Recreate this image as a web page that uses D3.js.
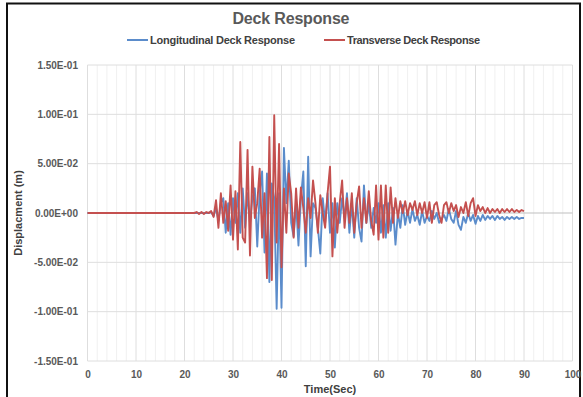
<!DOCTYPE html>
<html>
<head>
<meta charset="utf-8">
<script src="https://cdn.jsdelivr.net/npm/d3@7"></script>
<style>
  body { margin: 0; background: #fff; }
  svg { display: block; font-family: "Liberation Sans", Arial, sans-serif; }
</style>
</head>
<body>
<svg id="chart" width="583" height="397"></svg>
<script>
const seriesNames = ['Longitudinal Deck Response', 'Transverse Deck Response'];
const seriesColors = ['#5b8ccb', '#c4504f'];
const xTicks = [0, 10, 20, 30, 40, 50, 60, 70, 80, 90, 100];
const yTicks = [-0.15, -0.1, -0.05, 0, 0.05, 0.1, 0.15];

// samples: t = 0, then every 0.5 s from 22 to 90
const times = [0].concat(d3.range(22, 90.001, 0.5));

const longitudinal = [0,
  0, 0, 0, 0, 0, 0, 0.000, 0.001, -0.003, 0.005,
  -0.008, 0.010, 0.015, -0.020, 0.010, -0.022, 0.015, -0.010, 0.020, -0.020,
  0.025, -0.015, 0.020, -0.010, 0.015, 0.025, -0.034, 0.020, 0.042, -0.040,
  0.040, -0.070, 0.030, 0.015, -0.097, 0.020, -0.096, 0.066, 0.010, 0.053,
  -0.010, -0.024, 0.010, -0.033, 0.015, 0.042, -0.054, 0.057, -0.044, 0.010,
  0.005, -0.015, -0.041, 0.015, -0.010, 0.020, -0.020, 0.010, -0.035, 0.010,
  -0.010, 0.015, -0.005, 0.020, -0.020, 0.010, -0.025, 0.015, -0.015, -0.029,
  0.028, -0.010, 0.010, -0.015, 0.005, -0.010, 0.010, -0.020, 0.008, -0.025,
  0.010, -0.018, 0.005, -0.032, 0.000, -0.015, 0.008, -0.012, 0.002, -0.010,
  0.004, -0.008, -0.002, -0.012, 0.002, -0.010, -0.003, -0.008, 0.002, -0.006,
  0.000, -0.010, -0.006, -0.002, -0.008, 0.004, -0.006, -0.010, 0.002, -0.012,
  -0.017, -0.004, -0.010, 0.000, -0.008, -0.002, -0.011, -0.003, -0.008, -0.002,
  -0.007, -0.003, -0.006, -0.003, -0.007, -0.003, -0.006, -0.004, -0.007, -0.004,
  -0.006, -0.004, -0.006, -0.004, -0.006, -0.005, -0.005
];

const transverse = [0,
  0, 0.001, -0.001, 0.001, -0.001, 0.001, 0.000, 0.002, -0.004, 0.013,
  -0.015, 0.020, -0.010, 0.012, -0.018, 0.028, -0.027, 0.022, -0.037, 0.072,
  -0.025, -0.030, 0.064, -0.043, 0.047, -0.005, 0.010, 0.045, -0.025, 0.020,
  -0.066, 0.077, -0.068, 0.099, -0.030, 0.070, -0.055, 0.025, -0.020, 0.040,
  0.020, -0.025, 0.025, -0.015, 0.026, 0.005, -0.020, 0.015, -0.005, 0.033,
  0.010, -0.020, 0.018, 0.000, -0.015, 0.020, 0.047, -0.044, 0.015, -0.020,
  0.010, 0.033, -0.015, 0.015, -0.010, 0.020, -0.020, 0.010, 0.027, -0.015,
  0.015, -0.010, 0.022, -0.008, -0.022, 0.028, -0.027, 0.028, -0.025, 0.028,
  -0.020, 0.026, -0.010, 0.015, -0.005, 0.012, 0.000, 0.012, -0.002, 0.010,
  0.003, 0.012, -0.002, 0.010, 0.000, 0.011, -0.005, 0.011, -0.010, 0.008,
  0.011, -0.002, -0.010, 0.008, 0.011, 0.000, 0.010, 0.002, 0.008, -0.004,
  0.006, 0.000, 0.011, -0.003, 0.010, 0.015, -0.003, 0.008, 0.002, 0.006,
  0.000, 0.005, 0.000, 0.004, 0.001, 0.004, 0.000, 0.004, 0.001, 0.004,
  0.001, 0.004, 0.001, 0.003, 0.001, 0.003, 0.002
];

const svg = d3.select('#chart');
const width = 583;
const margin = { left: 87.5, right: 10.5, top: 65, bottom: 36 };
const plotW = width - margin.left - margin.right;
const plotH = 397 - margin.top - margin.bottom;

const x = d3.scaleLinear().domain([0, 100]).range([margin.left, margin.left + plotW]);
const y = d3.scaleLinear().domain([-0.15, 0.15]).range([margin.top + plotH, margin.top]);

const fmtY = v => {
  if (Math.abs(v) < 1e-12) return '0.00E+00';
  const parts = v.toExponential(2).split('e');
  const exp = parseInt(parts[1], 10);
  return parts[0] + 'E' + (exp < 0 ? '-' : '+') + String(Math.abs(exp)).padStart(2, '0');
};

// outer frame
svg.append('rect')
  .attr('x', 7)
  .attr('y', 3.5)
  .attr('width', 573)
  .attr('height', 400)
  .attr('fill', 'none')
  .attr('stroke', '#111')
  .attr('stroke-width', 2);

// minor vertical grid
svg.append('g')
  .selectAll('line')
  .data(d3.range(0, 101, 2).filter(d => d % 10 !== 0))
  .enter()
  .append('line')
  .attr('x1', d => x(d)).attr('x2', d => x(d))
  .attr('y1', margin.top).attr('y2', margin.top + plotH)
  .attr('stroke', '#f0f0f0')
  .attr('stroke-width', 1);

// major vertical grid
svg.append('g')
  .selectAll('line')
  .data(xTicks)
  .enter()
  .append('line')
  .attr('x1', d => x(d)).attr('x2', d => x(d))
  .attr('y1', margin.top).attr('y2', margin.top + plotH)
  .attr('stroke', '#dedede')
  .attr('stroke-width', 1);

// horizontal grid
svg.append('g')
  .selectAll('line')
  .data(yTicks)
  .enter()
  .append('line')
  .attr('x1', margin.left).attr('x2', margin.left + plotW)
  .attr('y1', d => y(d)).attr('y2', d => y(d))
  .attr('stroke', d => (d === 0 ? '#bfbfbf' : '#dedede'))
  .attr('stroke-width', 1);

// axes (text only)
const yAxis = svg.append('g')
  .attr('transform', 'translate(' + (margin.left - 9.5) + ',0)')
  .call(d3.axisLeft(y).tickValues(yTicks).tickFormat(fmtY).tickSize(0).tickPadding(0));
yAxis.select('.domain').remove();
yAxis.selectAll('text')
  .attr('fill', '#595959')
  .attr('font-size', 10)
  .attr('font-weight', 'bold')
  .attr('font-family', '"Liberation Sans", Arial, sans-serif');

const xAxis = svg.append('g')
  .attr('transform', 'translate(0,' + (margin.top + plotH + 10) + ')')
  .call(d3.axisBottom(x).tickValues(xTicks).tickFormat(d3.format('d')).tickSize(0).tickPadding(0));
xAxis.select('.domain').remove();
xAxis.selectAll('text')
  .attr('fill', '#595959')
  .attr('font-size', 10)
  .attr('font-weight', 'bold')
  .attr('font-family', '"Liberation Sans", Arial, sans-serif');

// series
const line = d3.line()
  .x(d => x(d[0]))
  .y(d => y(d[1]));

[longitudinal, transverse].forEach((vals, i) => {
  svg.append('path')
    .datum(times.map((t, j) => [t, vals[j]]))
    .attr('d', line)
    .attr('fill', 'none')
    .attr('stroke', seriesColors[i])
    .attr('stroke-width', 1.9)
    .attr('stroke-linejoin', 'round');
});

// title
svg.append('text')
  .attr('x', 291)
  .attr('y', 24)
  .attr('text-anchor', 'middle')
  .attr('font-size', 16)
  .attr('font-weight', 'bold')
  .attr('fill', '#595959')
  .attr('textLength', 117)
  .text('Deck Response');

// legend
const legendX = [127, 324];
const legendW = [145, 133];
seriesNames.forEach((name, i) => {
  const g = svg.append('g').attr('transform', 'translate(' + legendX[i] + ',40)');
  g.append('line')
    .attr('x1', 0).attr('x2', 21)
    .attr('y1', 0).attr('y2', 0)
    .attr('stroke', seriesColors[i])
    .attr('stroke-width', 2);
  g.append('text')
    .attr('x', 23)
    .attr('y', 4)
    .attr('font-size', 11)
    .attr('font-weight', 'bold')
    .attr('fill', '#404040')
    .attr('textLength', legendW[i])
    .text(name);
});

// axis titles
svg.append('text')
  .attr('x', x(50))
  .attr('y', 393)
  .attr('text-anchor', 'middle')
  .attr('font-size', 11)
  .attr('font-weight', 'bold')
  .attr('fill', '#404040')
  .text('Time(Sec)');

svg.append('text')
  .attr('transform', 'translate(22,' + y(0) + ') rotate(-90)')
  .attr('text-anchor', 'middle')
  .attr('font-size', 11)
  .attr('font-weight', 'bold')
  .attr('fill', '#404040')
  .text('Displacment (m)');
</script>
</body>
</html>
